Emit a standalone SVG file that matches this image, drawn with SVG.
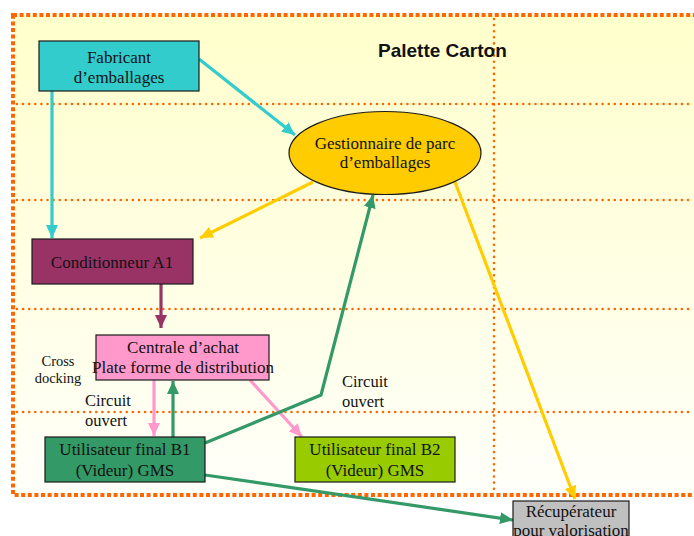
<svg xmlns="http://www.w3.org/2000/svg" width="694" height="536" viewBox="0 0 694 536">
<style>
.box{stroke:#1a1a1a;stroke-width:1.2}
.t{font-family:"Liberation Serif","Times New Roman",serif;font-size:17px;fill:#111;text-anchor:middle}
.s{font-family:"Liberation Serif","Times New Roman",serif;font-size:16.5px;fill:#111}
.sm{font-family:"Liberation Serif","Times New Roman",serif;font-size:14.5px;fill:#111;text-anchor:middle}
.grid{stroke:#FF6600;stroke-width:2.6;stroke-linecap:round;stroke-dasharray:0 6.1;fill:none}
.c{fill:none;stroke-width:3.2}
</style>
<defs>
<linearGradient id="bg" x1="0" y1="0" x2="0" y2="1">
<stop offset="0" stop-color="#FFFFCC"/>
<stop offset="0.45" stop-color="#FFFFE0"/>
<stop offset="1" stop-color="#FFFFFA"/>
</linearGradient>
<marker id="aTeal" markerUnits="userSpaceOnUse" markerWidth="14" markerHeight="12" refX="13" refY="6" orient="auto"><path d="M0,0 L13,6 L0,12 z" fill="#33CCCC"/></marker>
<marker id="aYel" markerUnits="userSpaceOnUse" markerWidth="14" markerHeight="12" refX="13" refY="6" orient="auto"><path d="M0,0 L13,6 L0,12 z" fill="#FFCC00"/></marker>
<marker id="aPur" markerUnits="userSpaceOnUse" markerWidth="14" markerHeight="12" refX="13" refY="6" orient="auto"><path d="M0,0 L13,6 L0,12 z" fill="#993366"/></marker>
<marker id="aPink" markerUnits="userSpaceOnUse" markerWidth="14" markerHeight="12" refX="13" refY="6" orient="auto"><path d="M0,0 L13,6 L0,12 z" fill="#FF99CC"/></marker>
<marker id="aGrn" markerUnits="userSpaceOnUse" markerWidth="14" markerHeight="12" refX="13" refY="6" orient="auto"><path d="M0,0 L13,6 L0,12 z" fill="#339966"/></marker>
</defs>
<rect width="694" height="536" fill="#FFFFFF"/>
<g id="background">
<rect x="13" y="15" width="690" height="480" fill="url(#bg)"/>
<path class="grid" d="M17,104 H694 M17,200 H694 M17,309 H694 M17,412 H694 M494,19 V493"/>
<rect x="13" y="15" width="700" height="480" fill="none" stroke="#FF6600" stroke-width="4" stroke-dasharray="4 2.6"/>
<text x="378" y="57" font-family="Liberation Sans, Arial, sans-serif" font-weight="bold" font-size="19" fill="#111">Palette Carton</text>
</g>
<g id="connectors">
<line class="c" stroke="#33CCCC" x1="52" y1="91" x2="52" y2="238" marker-end="url(#aTeal)"/>
<line class="c" stroke="#33CCCC" x1="199" y1="59" x2="295" y2="135" marker-end="url(#aTeal)"/>
<line class="c" stroke="#FFCC00" x1="313" y1="182" x2="200" y2="238" marker-end="url(#aYel)"/>
<line class="c" stroke="#FFCC00" x1="455" y1="182" x2="575" y2="499" marker-end="url(#aYel)"/>
<line class="c" stroke="#993366" x1="161" y1="284" x2="161" y2="328" marker-end="url(#aPur)"/>
<line class="c" stroke="#FF99CC" x1="154" y1="380" x2="154" y2="436" marker-end="url(#aPink)"/>
<line class="c" stroke="#339966" x1="173" y1="437" x2="173" y2="381" marker-end="url(#aGrn)"/>
<line class="c" stroke="#FF99CC" x1="250" y1="380" x2="302" y2="437" marker-end="url(#aPink)"/>
<polyline class="c" stroke="#339966" points="205,443 321,395 373,195" marker-end="url(#aGrn)"/>
<line class="c" stroke="#339966" x1="205" y1="475" x2="513" y2="520" marker-end="url(#aGrn)"/>
</g>
<g id="fabricant">
<rect class="box" x="39" y="41" width="160" height="50" fill="#33CCCC"/>
<text class="t" x="119" y="63">Fabricant</text>
<text class="t" x="119" y="83">d’emballages</text>
</g>
<g id="gestionnaire">
<ellipse class="box" cx="385" cy="153" rx="96" ry="41.5" fill="#FFCC00"/>
<text class="t" x="385" y="149">Gestionnaire de parc</text>
<text class="t" x="385" y="168">d’emballages</text>
</g>
<g id="conditionneur">
<rect class="box" x="32" y="239" width="161" height="45" fill="#993366"/>
<text class="t" x="112" y="268">Conditionneur A1</text>
</g>
<g id="centrale">
<rect class="box" x="96" y="335" width="173" height="45" fill="#FF99CC"/>
<text class="t" x="183" y="353">Centrale d’achat</text>
<text class="t" x="183" y="373">Plate forme de distribution</text>
</g>
<g id="cross-docking">
<text class="sm" x="58" y="366">Cross</text>
<text class="sm" x="58" y="383">docking</text>
</g>
<g id="circuit-left">
<text class="s" x="85" y="406">Circuit</text>
<text class="s" x="85" y="426">ouvert</text>
</g>
<g id="circuit-right">
<text class="s" x="342" y="387">Circuit</text>
<text class="s" x="342" y="407">ouvert</text>
</g>
<g id="utilisateur-b1">
<rect class="box" x="45" y="437" width="160" height="45" fill="#339966"/>
<text class="t" x="125" y="455">Utilisateur final B1</text>
<text class="t" x="125" y="476">(Videur) GMS</text>
</g>
<g id="utilisateur-b2">
<rect class="box" x="295" y="437" width="160" height="45" fill="#99CC00"/>
<text class="t" x="375" y="455">Utilisateur final B2</text>
<text class="t" x="375" y="476">(Videur) GMS</text>
</g>
<g id="recuperateur">
<rect class="box" x="513" y="501" width="116" height="45" fill="#C0C0C0"/>
<text class="t" x="571" y="517">Récupérateur</text>
<text class="t" x="571" y="536">pour valorisation</text>
</g>
</svg>
